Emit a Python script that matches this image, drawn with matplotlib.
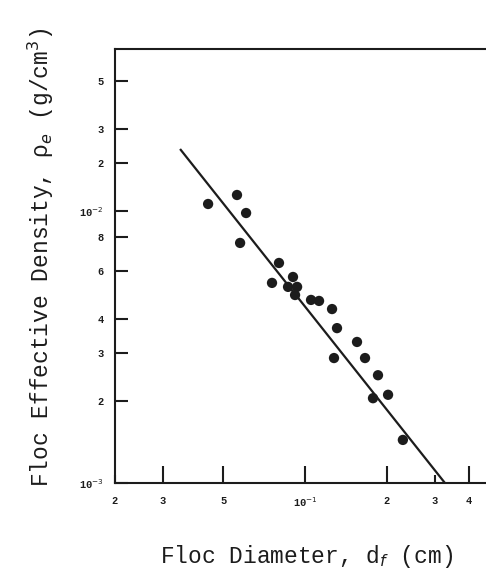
import numpy as np
import matplotlib
matplotlib.use("Agg")
import matplotlib.pyplot as plt
from matplotlib.ticker import FixedLocator, FixedFormatter, NullLocator

# Data (log-log)
floc_diameter = [0.0440, 0.0562, 0.0607, 0.0577, 0.0802, 0.0756, 0.0903, 0.0866,
                 0.0935, 0.0919, 0.1052, 0.1126, 0.1257, 0.1311, 0.1553, 0.1278,
                 0.1662, 0.1855, 0.1778, 0.2020, 0.2290]
floc_density = [0.01061, 0.01145, 0.00983, 0.00763, 0.00644, 0.00544, 0.00572, 0.00526,
                0.00526, 0.00491, 0.00471, 0.00467, 0.00436, 0.00371, 0.00330, 0.00288,
                0.00288, 0.00249, 0.00205, 0.00211, 0.00144]

# fitted line end points
fit_diameter = [0.0347, 0.327]
fit_density = [0.0169, 0.001]

# tick positions and labels as printed on the figure
x_major = [0.03, 0.05, 0.1, 0.2, 0.4]
x_major_labels = ["3", "5", "10$^{-1}$", "2", "4"]
x_minor = [0.02, 0.3]
x_minor_labels = ["2", "3"]
y_ticks = [0.001, 0.002, 0.003, 0.004, 0.006, 0.008, 0.01, 0.015, 0.02, 0.03]
y_tick_labels = ["10$^{-3}$", "2", "3", "4", "6", "8", "10$^{-2}$", "2", "3", "5"]

ink = "#1c1c1c"
plt.rcParams["font.family"] = ["Liberation Mono", "DejaVu Sans Mono"]

fig = plt.figure(figsize=(4.86, 5.71), dpi=100)
ax = fig.add_axes([115 / 486, 88 / 571, 371 / 486, 434 / 571])

ax.plot(fit_diameter, fit_density, color=ink, lw=1.6, solid_capstyle="butt")
ax.scatter(floc_diameter, floc_density, s=55, color=ink, edgecolors="none", zorder=3)

ax.set_xscale("log")
ax.set_yscale("log")
ax.set_xlim(0.02, 0.463)
ax.set_ylim(0.001, 0.0394)

ax.xaxis.set_major_locator(FixedLocator(x_major))
ax.xaxis.set_major_formatter(FixedFormatter(x_major_labels))
ax.xaxis.set_minor_locator(FixedLocator(x_minor))
ax.xaxis.set_minor_formatter(FixedFormatter(x_minor_labels))
ax.yaxis.set_major_locator(FixedLocator(y_ticks))
ax.yaxis.set_major_formatter(FixedFormatter(y_tick_labels))
ax.yaxis.set_minor_locator(NullLocator())

ax.tick_params(axis="x", which="major", direction="in", length=12, width=1.5,
               pad=9, labelsize=7.5, colors=ink)
ax.tick_params(axis="x", which="minor", direction="in", length=6, width=1.5,
               pad=9, labelsize=7.5, colors=ink)
ax.tick_params(axis="y", which="major", direction="in", length=9, width=1.5,
               pad=8, labelsize=7.5, colors=ink)
for lab in ax.get_xticklabels(which="both") + ax.get_yticklabels():
    lab.set_fontweight("bold")

for side in ["left", "bottom", "top"]:
    ax.spines[side].set_linewidth(1.5)
    ax.spines[side].set_color(ink)
ax.spines["right"].set_visible(False)

ax.set_xlabel("Floc Diameter, d$_f$ (cm)", fontsize=16.5, color=ink)
ax.xaxis.set_label_coords(0.515, -0.138)
ax.set_ylabel("Floc Effective Density, \u03c1$_e$ (g/cm$^3$)", fontsize=16.5, color=ink)
ax.yaxis.set_label_coords(-0.159, 0.52)

fig.savefig("out.png", dpi=100)
